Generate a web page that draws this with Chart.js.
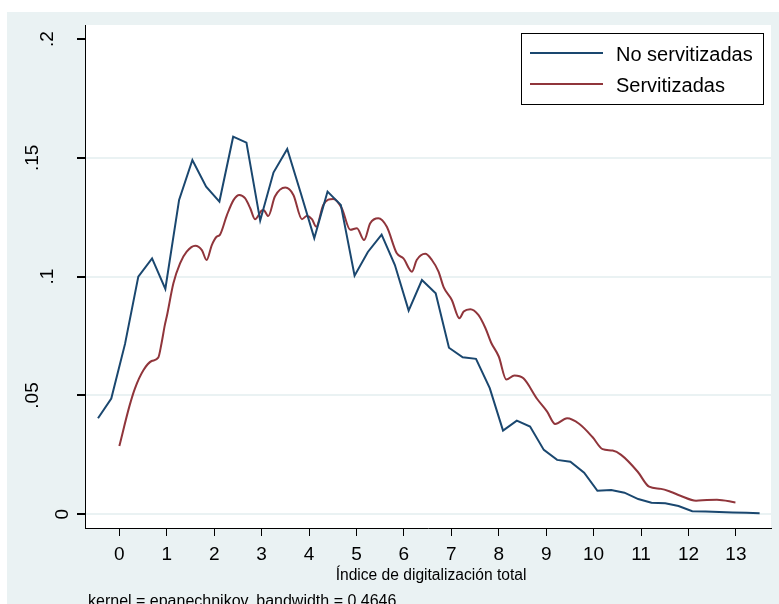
<!DOCTYPE html>
<html>
<head>
<meta charset="utf-8">
<title>Kernel density: índice de digitalización</title>
<script src="https://cdn.jsdelivr.net/npm/chart.js@4"></script>
<style>
  html, body { margin: 0; padding: 0; background: #fff; }
  canvas { display: block; }
</style>
</head>
<body>
<canvas id="kd" width="779" height="604"></canvas>
<script>
/* Kernel density of the digitalization index, firms with and without
   servitization. */

const PANEL = "#eaf2f3";
const BLUE = "#1a476f";
const RED = "#90353b";
const FONT = '"Liberation Sans", Arial, sans-serif';

// x tick values and y tick labels
const xTicks = [0, 1, 2, 3, 4, 5, 6, 7, 8, 9, 10, 11, 12, 13];
const yTicks = [0, 0.05, 0.1, 0.15, 0.2];
const yLabels = ["0", ".05", ".1", ".15", ".2"];

// No servitizadas (50 evaluation points)
const noServX = [-0.45, -0.17, 0.12, 0.40, 0.69, 0.97, 1.26, 1.54, 1.83, 2.11,
  2.40, 2.68, 2.97, 3.25, 3.54, 3.82, 4.11, 4.39, 4.67, 4.96,
  5.24, 5.53, 5.81, 6.10, 6.38, 6.67, 6.95, 7.24, 7.52, 7.81,
  8.09, 8.38, 8.66, 8.95, 9.23, 9.51, 9.80, 10.08, 10.37, 10.65,
  10.94, 11.22, 11.51, 11.79, 12.08, 12.36, 12.65, 12.93, 13.22, 13.50];
const noServY = [0.0404, 0.0487, 0.0717, 0.1000, 0.1077, 0.0948, 0.1323, 0.1491, 0.1379, 0.1316,
  0.1589, 0.1564, 0.1236, 0.1438, 0.1537, 0.1355, 0.1162, 0.1358, 0.1302, 0.1004,
  0.1104, 0.1177, 0.1049, 0.0857, 0.0986, 0.0930, 0.0701, 0.0661, 0.0654, 0.0531,
  0.0352, 0.0394, 0.0369, 0.0271, 0.0229, 0.0221, 0.0175, 0.0099, 0.0102, 0.0091,
  0.0064, 0.0049, 0.0046, 0.0035, 0.0013, 0.0012, 0.0010, 0.0008, 0.0006, 0.0004];

// Servitizadas
const servX = [0.00, 0.21, 0.33, 0.51, 0.68, 0.82, 0.89, 0.96, 1.00, 1.14,
  1.28, 1.42, 1.60, 1.74, 1.84, 1.95, 2.05, 2.12, 2.27, 2.41,
  2.53, 2.65, 2.76, 2.86, 3.00, 3.04, 3.14, 3.28, 3.50, 3.67,
  3.85, 3.95, 4.06, 4.15, 4.30, 4.51, 4.69, 4.87, 5.01, 5.16,
  5.29, 5.46, 5.64, 5.85, 5.99, 6.17, 6.27, 6.45, 6.59, 6.73,
  6.84, 7.01, 7.17, 7.26, 7.40, 7.57, 7.72, 7.84, 8.00, 8.16,
  8.33, 8.52, 8.81, 9.02, 9.19, 9.44, 9.70, 9.98, 10.19, 10.40,
  10.58, 10.93, 11.17, 11.42, 11.62, 11.83, 12.16, 12.39, 12.60, 12.99];
const servY = [0.0287, 0.0453, 0.0530, 0.0607, 0.0645, 0.0659, 0.0720, 0.0797, 0.0832, 0.0972,
  0.1056, 0.1105, 0.1130, 0.1112, 0.1070, 0.1133, 0.1168, 0.1176, 0.1260, 0.1323,
  0.1344, 0.1330, 0.1288, 0.1242, 0.1278, 0.1281, 0.1255, 0.1337, 0.1375, 0.1344,
  0.1242, 0.1255, 0.1242, 0.1210, 0.1302, 0.1327, 0.1288, 0.1197, 0.1204, 0.1154,
  0.1225, 0.1246, 0.1210, 0.1098, 0.1077, 0.1021, 0.1070, 0.1096, 0.1070, 0.1021,
  0.0955, 0.0902, 0.0825, 0.0853, 0.0863, 0.0839, 0.0783, 0.0722, 0.0664, 0.0567,
  0.0584, 0.0572, 0.0485, 0.0432, 0.0380, 0.0404, 0.0380, 0.0324, 0.0274, 0.0268,
  0.0250, 0.0179, 0.0116, 0.0107, 0.0095, 0.0078, 0.0057, 0.0060, 0.0061, 0.0050];

const xTitle = "Índice de digitalización total";
const note = "kernel = epanechnikov, bandwidth = 0.4646";

const pts = (xs, ys) => xs.map((x, i) => ({ x, y: ys[i] }));

// Stata-like backdrop: white page, bluish-gray graph region, white plot region
const backdrop = {
  id: "backdrop",
  beforeDraw(chart) {
    const { ctx, chartArea: a } = chart;
    ctx.save();
    ctx.fillStyle = "#fff";
    ctx.fillRect(0, 0, chart.width, chart.height);
    ctx.fillStyle = PANEL;
    ctx.fillRect(7, 12, chart.width - 7, chart.height - 12);
    ctx.fillStyle = "#fff";
    ctx.fillRect(a.left, a.top, a.right - a.left, a.bottom - a.top);
    ctx.restore();
  }
};

// rotated y labels, axis title, note and the boxed legend
const decorations = {
  id: "decorations",
  afterDraw(chart) {
    const { ctx } = chart;
    const y = chart.scales.y;
    ctx.save();
    ctx.fillStyle = "#000";
    ctx.font = "19px " + FONT;
    ctx.textAlign = "center";
    ctx.textBaseline = "alphabetic";
    yTicks.forEach((v, i) => {
      const lab = yLabels[i];
      ctx.save();
      ctx.translate(83 - 15 * lab.length, y.getPixelForValue(v));
      ctx.rotate(-Math.PI / 2);
      ctx.fillText(lab, 0, 0);
      ctx.restore();
    });

    ctx.font = "15.6px " + FONT;
    ctx.fillText(xTitle, 431, 580);
    ctx.font = "16px " + FONT;
    ctx.textAlign = "left";
    ctx.fillText(note, 88, 605.5);

    // legend
    ctx.fillStyle = "#fff";
    ctx.fillRect(521, 33, 242, 71);
    ctx.strokeStyle = "#000";
    ctx.lineWidth = 1;
    ctx.strokeRect(521.5, 33.5, 242, 71);
    ctx.font = "20px " + FONT;
    ctx.textBaseline = "middle";
    chart.data.datasets.forEach((ds, i) => {
      const ly = 53 + i * 31;
      ctx.strokeStyle = ds.borderColor;
      ctx.lineWidth = 2;
      ctx.beginPath();
      ctx.moveTo(530, ly);
      ctx.lineTo(603, ly);
      ctx.stroke();
      ctx.fillStyle = "#000";
      ctx.fillText(ds.label, 616, ly + 2);
    });
    ctx.restore();
  }
};

new Chart(document.getElementById("kd"), {
  type: "line",
  data: {
    datasets: [
      { label: "No servitizadas", data: pts(noServX, noServY), borderColor: BLUE,
        borderWidth: 2, pointRadius: 0, tension: 0 },
      { label: "Servitizadas", data: pts(servX, servY), borderColor: RED,
        borderWidth: 2, pointRadius: 0, cubicInterpolationMode: "monotone" },
    ],
  },
  options: {
    responsive: false, animation: false,
    layout: { padding: { top: 25, right: 8, left: 0, bottom: 0 } },
    plugins: { legend: { display: false }, tooltip: { enabled: false } },
    scales: {
      x: {
        type: "linear", min: -0.724, max: 13.74,
        afterBuildTicks: s => { s.ticks = xTicks.map(v => ({ value: v })); },
        afterFit: s => { s.height = 76; },
        ticks: { color: "#000", font: { family: FONT, size: 19 }, padding: 7, maxRotation: 0 },
        grid: { drawOnChartArea: false, color: "#000", tickLength: 8 },
        border: { color: "#000", width: 1 },
      },
      y: {
        type: "linear", min: -0.00577, max: 0.2059,
        afterBuildTicks: s => { s.ticks = yTicks.map(v => ({ value: v })); },
        afterFit: s => { s.width = 85; },
        ticks: { display: false },
        grid: {
          color: c => (c.tick && c.tick.value === 0.2) ? "rgba(0,0,0,0)" : PANEL,
          lineWidth: 2, tickLength: 8, tickColor: "#000",
        },
        border: { color: "#000", width: 1 },
      },
    },
  },
  plugins: [backdrop, decorations],
});
</script>
</body>
</html>
